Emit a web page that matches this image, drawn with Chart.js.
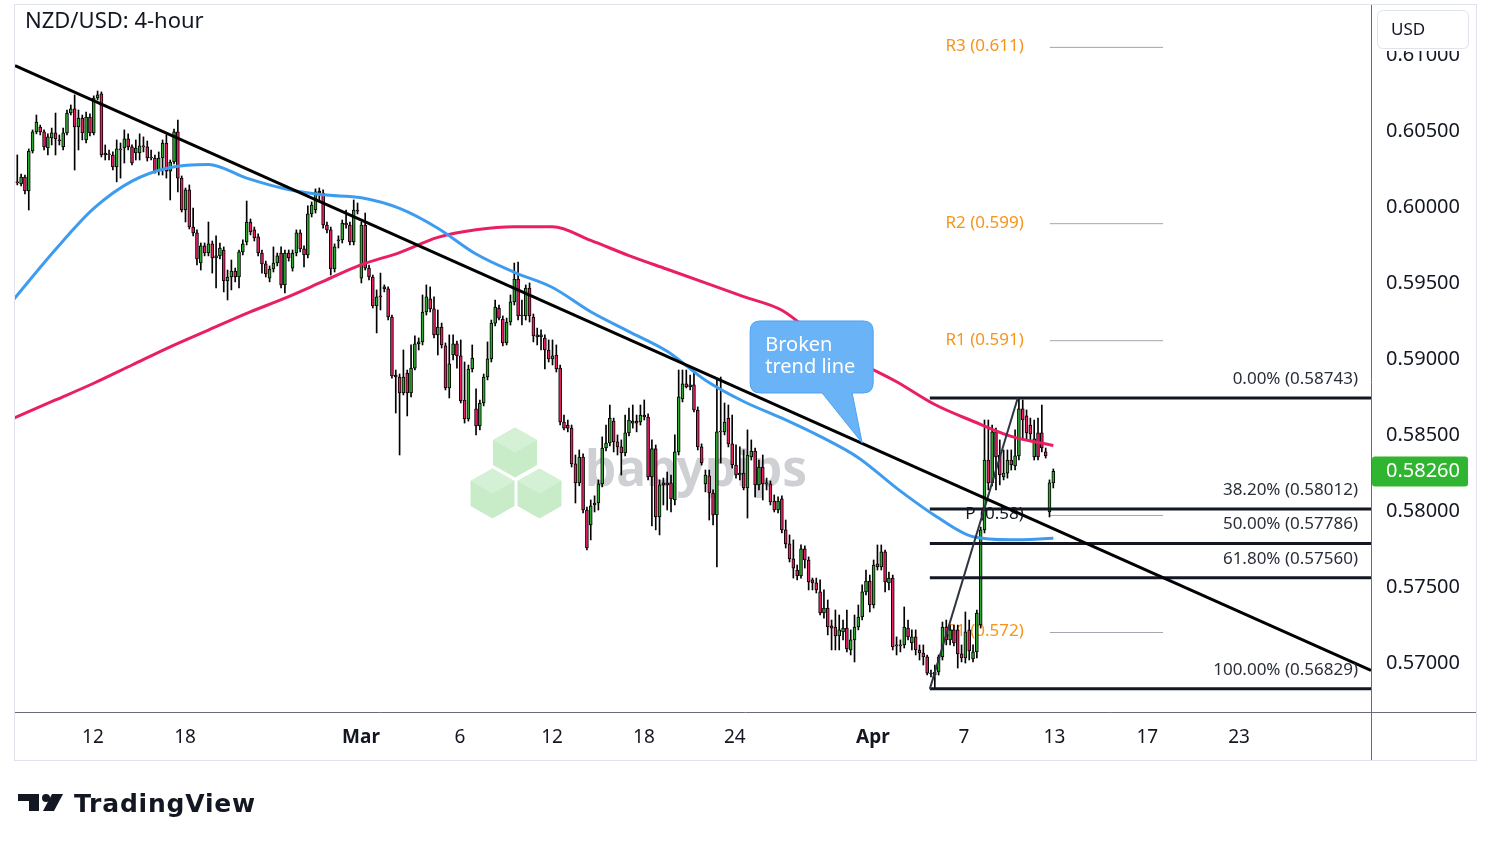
<!DOCTYPE html>
<html>
<head>
<meta charset="utf-8">
<title>NZD/USD 4-hour</title>
<script src="https://cdn.jsdelivr.net/npm/chart.js@4.4.1/dist/chart.umd.min.js"></script>
<style>
  html, body { margin: 0; padding: 0; background: #ffffff; }
  #wrap { position: relative; width: 1491px; height: 851px; }
</style>
</head>
<body>
<div id="wrap"><canvas id="chart" width="1491" height="851"></canvas></div>
<script>
// 4-hour candles, Feb 11 -> Apr 13
const opens = [0.60165,0.60152,0.60197,0.60105,0.60368,0.60494,0.60526,0.60494,0.60388,0.60454,
0.60487,0.60441,0.60395,0.60487,0.60618,0.60645,0.60526,0.60585,0.60441,0.60592,
0.60487,0.60717,0.60744,0.60342,0.60349,0.60342,0.60263,0.60382,0.60388,0.60448,
0.60395,0.60355,0.60355,0.60402,0.60395,0.60322,0.60322,0.60236,0.60322,0.60421,
0.60236,0.60296,0.60494,0.60190,0.59980,0.60112,0.59868,0.59829,0.59631,0.59744,
0.59697,0.59757,0.59664,0.59678,0.59717,0.59513,0.59539,0.59578,0.59539,0.59704,
0.59770,0.59901,0.59849,0.59803,0.59697,0.59625,0.59532,0.59592,0.59631,0.59697,
0.59487,0.59697,0.59598,0.59697,0.59829,0.59724,0.59684,0.59954,0.59980,0.60105,
0.60092,0.59881,0.59849,0.59592,0.59776,0.59783,0.59894,0.59881,0.59770,0.59980,
0.59532,0.59881,0.59598,0.59539,0.59349,0.59415,0.59474,0.59461,0.59276,0.58894,
0.58881,0.58776,0.58907,0.58776,0.58940,0.59099,0.59112,0.59309,0.59395,0.59329,
0.59158,0.59210,0.59086,0.58809,0.59026,0.59099,0.59020,0.58730,0.58605,0.58934,
0.58671,0.58559,0.58710,0.58881,0.59000,0.59236,0.59335,0.59263,0.59105,0.59243,
0.59375,0.59526,0.59289,0.59283,0.59467,0.59276,0.59145,0.59158,0.59138,0.59059,
0.59000,0.59026,0.58940,0.58585,0.58565,0.58545,0.58309,0.58184,0.58355,0.58006,
0.57907,0.58039,0.58052,0.58178,0.58414,0.58447,0.58591,0.58454,0.58421,0.58381,
0.58513,0.58578,0.58591,0.58585,0.58631,0.58618,0.58223,0.58408,0.57960,0.58184,
0.58171,0.58184,0.58072,0.58388,0.58737,0.58836,0.58816,0.58829,0.58664,0.58421,
0.58178,0.58230,0.58118,0.57973,0.58526,0.58520,0.58611,0.58441,0.58302,0.58236,
0.58249,0.58151,0.58355,0.58394,0.58171,0.58289,0.58184,0.58178,0.58065,0.58006,
0.58079,0.57875,0.57783,0.57684,0.57611,0.57572,0.57750,0.57677,0.57546,0.57526,
0.57467,0.57328,0.57361,0.57243,0.57236,0.57178,0.57204,0.57229,0.57085,0.57151,
0.57236,0.57302,0.57467,0.57539,0.57381,0.57651,0.57631,0.57730,0.57526,0.57558,
0.57118,0.57112,0.57118,0.57229,0.57131,0.57171,0.57085,0.57065,0.57039,0.56933,
0.56920,0.56940,0.57039,0.57236,0.57151,0.57217,0.57217,0.57059,0.57032,0.57217,
0.57026,0.57072,0.57249,0.57875,0.58335,0.58184,0.58520,0.58368,0.58223,0.58249,
0.58335,0.58296,0.58362,0.58671,0.58625,0.58565,0.58355,0.58513,0.58513,0.58388,
0.57993,0.58184];

const highs = [0.60342,0.60217,0.60210,0.60382,0.60507,0.60605,0.60539,0.60507,0.60481,0.60519,
0.60618,0.60474,0.60519,0.60638,0.60671,0.60737,0.60638,0.60605,0.60625,0.60612,
0.60731,0.60763,0.60757,0.60408,0.60375,0.60362,0.60441,0.60421,0.60507,0.60481,
0.60408,0.60441,0.60481,0.60461,0.60434,0.60375,0.60342,0.60362,0.60441,0.60474,
0.60309,0.60513,0.60572,0.60204,0.60125,0.60145,0.59993,0.59849,0.59763,0.59763,
0.59901,0.59776,0.59810,0.59763,0.59737,0.59585,0.59651,0.59598,0.59717,0.59783,
0.60039,0.59921,0.59868,0.59823,0.59717,0.59644,0.59612,0.59737,0.59697,0.59737,
0.59717,0.59717,0.59717,0.59849,0.59849,0.59744,0.60007,0.60033,0.60119,0.60125,
0.60112,0.59901,0.59868,0.59757,0.59810,0.59914,0.59980,0.59901,0.60046,0.60026,
0.59901,0.59960,0.59618,0.59552,0.59454,0.59565,0.59487,0.59474,0.59289,0.58927,
0.58901,0.59059,0.58927,0.59092,0.59152,0.59138,0.59421,0.59487,0.59474,0.59408,
0.59322,0.59236,0.59105,0.59158,0.59158,0.59118,0.59125,0.58980,0.58960,0.59092,
0.58803,0.58730,0.58901,0.59112,0.59256,0.59388,0.59355,0.59283,0.59269,0.59421,
0.59631,0.59638,0.59388,0.59487,0.59500,0.59296,0.59203,0.59191,0.59158,0.59125,
0.59125,0.59092,0.58960,0.58631,0.58598,0.58565,0.58368,0.58401,0.58375,0.58026,
0.58072,0.58099,0.58204,0.58487,0.58565,0.58697,0.58611,0.58500,0.58467,0.58631,
0.58677,0.58697,0.58631,0.58697,0.58730,0.58638,0.58467,0.58434,0.58204,0.58216,
0.58256,0.58236,0.58500,0.58927,0.58927,0.58927,0.58894,0.58914,0.58684,0.58441,
0.58269,0.58269,0.58138,0.58862,0.58881,0.58710,0.58697,0.58631,0.58434,0.58421,
0.58401,0.58533,0.58467,0.58414,0.58335,0.58368,0.58216,0.58197,0.58105,0.58092,
0.58099,0.57940,0.57842,0.57809,0.57644,0.57776,0.57770,0.57697,0.57558,0.57558,
0.57546,0.57480,0.57414,0.57282,0.57348,0.57315,0.57282,0.57348,0.57217,0.57315,
0.57381,0.57513,0.57611,0.57578,0.57677,0.57776,0.57776,0.57743,0.57598,0.57578,
0.57171,0.57151,0.57368,0.57282,0.57217,0.57217,0.57118,0.57118,0.57052,0.56953,
0.56986,0.57052,0.57269,0.57282,0.57249,0.57249,0.57249,0.57118,0.57335,0.57282,
0.57118,0.57348,0.57894,0.58598,0.58598,0.58565,0.58545,0.58467,0.58401,0.58401,
0.58401,0.58533,0.58743,0.58730,0.58664,0.58611,0.58598,0.58611,0.58697,0.58414,
0.58204,0.58276];

const lows = [0.60145,0.60139,0.60086,0.59980,0.60355,0.60481,0.60474,0.60375,0.60342,0.60408,
0.60342,0.60408,0.60375,0.60474,0.60605,0.60243,0.60375,0.60441,0.60421,0.60468,
0.60474,0.60704,0.60329,0.60309,0.60309,0.60243,0.60165,0.60190,0.60289,0.60375,
0.60276,0.60309,0.60309,0.60362,0.60302,0.60309,0.60223,0.60210,0.60210,0.60190,
0.60046,0.60283,0.60099,0.59967,0.59901,0.59855,0.59810,0.59618,0.59585,0.59678,
0.59678,0.59565,0.59467,0.59658,0.59441,0.59388,0.59454,0.59507,0.59467,0.59684,
0.59750,0.59816,0.59776,0.59678,0.59565,0.59539,0.59507,0.59572,0.59612,0.59467,
0.59434,0.59644,0.59578,0.59678,0.59704,0.59605,0.59664,0.59934,0.59960,0.60046,
0.59861,0.59829,0.59552,0.59572,0.59730,0.59763,0.59861,0.59750,0.59750,0.59954,
0.59500,0.59585,0.59520,0.59335,0.59171,0.59322,0.59441,0.59256,0.58874,0.58644,
0.58368,0.58763,0.58625,0.58750,0.58927,0.59059,0.59092,0.59289,0.59309,0.59138,
0.59026,0.59072,0.58796,0.58743,0.58993,0.58940,0.58710,0.58578,0.58591,0.58914,
0.58500,0.58533,0.58691,0.58862,0.58980,0.59217,0.59256,0.59086,0.59092,0.59223,
0.59355,0.59256,0.59223,0.59256,0.59243,0.59112,0.59092,0.59059,0.58934,0.58980,
0.58960,0.58914,0.58565,0.58533,0.58520,0.58289,0.58052,0.58165,0.57986,0.57743,
0.57809,0.57993,0.58006,0.58158,0.58394,0.58428,0.58388,0.58368,0.58236,0.58362,
0.58494,0.58545,0.58520,0.58565,0.58598,0.58204,0.57901,0.57875,0.57842,0.58039,
0.58006,0.57993,0.58039,0.58368,0.58717,0.58809,0.58796,0.58651,0.58401,0.58302,
0.58125,0.57940,0.57907,0.57631,0.58315,0.58500,0.58421,0.58282,0.58216,0.58204,
0.58138,0.57953,0.58335,0.58092,0.58138,0.58072,0.58138,0.58039,0.57993,0.57986,
0.57855,0.57756,0.57664,0.57558,0.57546,0.57558,0.57624,0.57480,0.57480,0.57460,
0.57315,0.57295,0.57184,0.57085,0.57085,0.57085,0.57151,0.57072,0.57052,0.57006,
0.57217,0.57282,0.57447,0.57335,0.57361,0.57611,0.57611,0.57467,0.57480,0.57085,
0.57052,0.57072,0.57098,0.57151,0.57085,0.57052,0.57019,0.56986,0.56920,0.56907,
0.56829,0.56920,0.57019,0.57118,0.57118,0.57112,0.56966,0.57006,0.56999,0.57019,
0.57006,0.57032,0.57229,0.57855,0.58138,0.58165,0.58138,0.58171,0.58204,0.58216,
0.58269,0.58269,0.58335,0.58467,0.58467,0.58467,0.58335,0.58335,0.58388,0.58348,
0.57960,0.58151];

const closes = [0.60158,0.60197,0.60105,0.60368,0.60494,0.60559,0.60494,0.60395,0.60461,0.60487,
0.60448,0.60434,0.60487,0.60618,0.60645,0.60526,0.60585,0.60487,0.60592,0.60487,
0.60717,0.60737,0.60342,0.60355,0.60342,0.60263,0.60382,0.60375,0.60448,0.60395,
0.60289,0.60388,0.60402,0.60395,0.60322,0.60329,0.60236,0.60322,0.60421,0.60236,
0.60296,0.60494,0.60190,0.59980,0.60112,0.59868,0.59829,0.59658,0.59744,0.59697,
0.59757,0.59664,0.59678,0.59730,0.59513,0.59539,0.59578,0.59539,0.59704,0.59757,
0.59901,0.59836,0.59796,0.59697,0.59625,0.59559,0.59592,0.59631,0.59678,0.59487,
0.59697,0.59664,0.59697,0.59829,0.59724,0.59684,0.59954,0.60013,0.60099,0.60092,
0.59881,0.59849,0.59592,0.59737,0.59783,0.59894,0.59881,0.59770,0.59980,0.59973,
0.59881,0.59598,0.59539,0.59349,0.59408,0.59408,0.59461,0.59276,0.58888,0.58881,
0.58776,0.58881,0.58776,0.58940,0.59099,0.59112,0.59309,0.59408,0.59329,0.59158,
0.59210,0.59092,0.58809,0.58967,0.59099,0.59020,0.58723,0.58605,0.58934,0.59006,
0.58559,0.58710,0.58881,0.59000,0.59236,0.59342,0.59269,0.59105,0.59243,0.59375,
0.59526,0.59283,0.59283,0.59467,0.59283,0.59152,0.59158,0.59145,0.59059,0.59000,
0.59020,0.58934,0.58585,0.58545,0.58545,0.58309,0.58184,0.58355,0.58006,0.57756,
0.58033,0.58052,0.58178,0.58414,0.58447,0.58611,0.58454,0.58421,0.58381,0.58513,
0.58598,0.58591,0.58578,0.58631,0.58618,0.58223,0.58408,0.57960,0.58171,0.58171,
0.58184,0.58079,0.58388,0.58750,0.58836,0.58816,0.58829,0.58664,0.58421,0.58315,
0.58236,0.58118,0.57973,0.58520,0.58520,0.58585,0.58441,0.58302,0.58236,0.58249,
0.58151,0.58368,0.58394,0.58171,0.58289,0.58178,0.58178,0.58059,0.58006,0.58065,
0.57875,0.57783,0.57684,0.57624,0.57572,0.57750,0.57677,0.57533,0.57526,0.57480,
0.57328,0.57361,0.57236,0.57229,0.57178,0.57217,0.57229,0.57092,0.57151,0.57236,
0.57302,0.57467,0.57539,0.57381,0.57644,0.57631,0.57730,0.57533,0.57558,0.57105,
0.57112,0.57118,0.57236,0.57171,0.57171,0.57085,0.57065,0.57039,0.56933,0.56927,
0.56940,0.57039,0.57236,0.57151,0.57217,0.57131,0.57059,0.57032,0.57204,0.57078,
0.57072,0.57328,0.57875,0.58335,0.58184,0.58520,0.58355,0.58236,0.58249,0.58335,
0.58302,0.58362,0.58671,0.58598,0.58513,0.58507,0.58474,0.58355,0.58414,0.58362,
0.58184,0.58260];

// moving averages, read every 10 bars
const maBars = [-1,10,20,30,40,50,60,70,80,90,100,110,120,130,140,150,160,170,180,190,200,210,220,230,240,250,260,271];
const ma100  = [0.5939,0.5972,0.5999,0.6017,0.6026,0.6028,0.6019,0.6012,0.6008,0.6006,0.5999,0.5986,0.5969,0.5957,0.5947,0.5931,0.5918,0.5905,0.5886,0.5872,0.5861,0.5849,0.5835,0.5815,0.5797,0.5783,0.5781,0.5782];
const ma200  = [0.5861,0.5873,0.5884,0.5896,0.5908,0.5919,0.5930,0.5940,0.5951,0.5962,0.5970,0.5980,0.5985,0.5987,0.5987,0.5978,0.5968,0.5959,0.5950,0.5941,0.5932,0.5913,0.5898,0.5885,0.5870,0.5859,0.5849,0.5843];

// drawings
const trendBars   = [-0.6, 354.1];
const trendPrices = [0.6093, 0.5695];
const fibHigh = 0.58743;
const fibLow = 0.56829;
const fibLevels = [0, 0.382, 0.5, 0.618, 1];
const fibFromBar = 238.7;
const fibToBar = 261.7;
const pivotNames  = ['R3', 'R2', 'R1', 'P', 'S1'];
const pivotValues = [0.6105, 0.5989, 0.5912, 0.5797, 0.5720];
const pivotBars   = [270.1, 299.7];
const calloutAt = [221, 0.58447];

// axes
const tickBars   = [19.8, 43.9, 89.9, 115.8, 139.9, 163.9, 187.7, 223.8, 247.6, 271.3, 295.6, 319.6];
const tickLabels = ['12', '18', 'Mar', '6', '12', '18', '24', 'Apr', '7', '13', '17', '23'];
const monthLabels = ['Mar', 'Apr'];
const priceTicks = [0.570, 0.575, 0.580, 0.585, 0.590, 0.595, 0.600, 0.605, 0.610];

const xMin = -0.6, xMax = 354.1;
const yMin = 0.566768, yMax = 0.613289;

const upColor = '#2ca82c';
const downColor = '#e91e63';
const FONT = '"Noto Sans", "Open Sans", sans-serif';

Chart.defaults.font.family = FONT;

function roundRect(ctx, x, y, w, h, r) {
  ctx.beginPath();
  ctx.moveTo(x + r, y);
  ctx.lineTo(x + w - r, y);
  ctx.quadraticCurveTo(x + w, y, x + w, y + r);
  ctx.lineTo(x + w, y + h - r);
  ctx.quadraticCurveTo(x + w, y + h, x + w - r, y + h);
  ctx.lineTo(x + r, y + h);
  ctx.quadraticCurveTo(x, y + h, x, y + h - r);
  ctx.lineTo(x, y + r);
  ctx.quadraticCurveTo(x, y, x + r, y);
  ctx.closePath();
}

function drawCube(ctx, cx, cy, w, h) {
  ctx.beginPath();
  ctx.moveTo(cx, cy - h);
  ctx.lineTo(cx + w, cy - h / 2);
  ctx.lineTo(cx + w, cy + h / 2);
  ctx.lineTo(cx, cy + h);
  ctx.lineTo(cx - w, cy + h / 2);
  ctx.lineTo(cx - w, cy - h / 2);
  ctx.closePath();
  ctx.fillStyle = '#c8ebc8';
  ctx.fill();
  ctx.beginPath();
  ctx.moveTo(cx, cy - h);
  ctx.lineTo(cx + w, cy - h / 2);
  ctx.lineTo(cx, cy);
  ctx.lineTo(cx - w, cy - h / 2);
  ctx.closePath();
  ctx.fillStyle = '#d5f1d5';
  ctx.fill();
}

const extras = {
  id: 'extras',
  beforeDatasetsDraw(chart) {
    const ctx = chart.ctx;
    const xs = chart.scales.x, ys = chart.scales.y;
    ctx.save();
    // babypips watermark
    drawCube(ctx, 515, 452.5, 22, 25);
    drawCube(ctx, 492.5, 493.5, 22, 25);
    drawCube(ctx, 539.5, 493.5, 22, 25);
    ctx.font = 'bold 52px ' + FONT;
    const w = ctx.measureText('babypips').width;
    ctx.font = 'bold ' + (52 * 222 / w).toFixed(1) + 'px ' + FONT;
    ctx.fillStyle = 'rgba(175,177,183,0.6)';
    ctx.textBaseline = 'alphabetic';
    ctx.fillText('babypips', 585, 486);

    // pivot labels
    ctx.font = '17px ' + FONT;
    ctx.textAlign = 'right';
    ctx.textBaseline = 'middle';
    const px = xs.getPixelForValue(pivotBars[0]) - 26;
    pivotNames.forEach((n, k) => {
      ctx.fillStyle = n === 'P' ? '#131722' : '#f7941d';
      ctx.fillText(n + ' (' + parseFloat(pivotValues[k].toFixed(3)) + ')', px, ys.getPixelForValue(pivotValues[k]) - 1);
    });
    ctx.restore();
  },
  afterDatasetsDraw(chart) {
    const ctx = chart.ctx;
    const xs = chart.scales.x, ys = chart.scales.y, area = chart.chartArea;
    ctx.save();
    // fib labels
    ctx.font = '17px ' + FONT;
    ctx.textAlign = 'right';
    ctx.textBaseline = 'middle';
    ctx.fillStyle = '#2a2e39';
    fibLevels.forEach(l => {
      const price = fibHigh - l * (fibHigh - fibLow);
      ctx.fillText((l * 100).toFixed(2) + '% (' + price.toFixed(5) + ')', area.right - 13, ys.getPixelForValue(price) - 19);
    });

    // callout
    const tx = xs.getPixelForValue(calloutAt[0]);
    const ty = ys.getPixelForValue(calloutAt[1]);
    const bx = tx - 112, by = ty - 122, bw = 123, bh = 72, r = 10;
    ctx.beginPath();
    ctx.moveTo(bx + r, by);
    ctx.lineTo(bx + bw - r, by);
    ctx.quadraticCurveTo(bx + bw, by, bx + bw, by + r);
    ctx.lineTo(bx + bw, by + bh - r);
    ctx.quadraticCurveTo(bx + bw, by + bh, bx + bw - r, by + bh);
    ctx.lineTo(tx - 10, by + bh);
    ctx.lineTo(tx, ty);
    ctx.lineTo(tx - 40, by + bh);
    ctx.lineTo(bx + r, by + bh);
    ctx.quadraticCurveTo(bx, by + bh, bx, by + bh - r);
    ctx.lineTo(bx, by + r);
    ctx.quadraticCurveTo(bx, by, bx + r, by);
    ctx.closePath();
    ctx.fillStyle = '#6ab3f6';
    ctx.fill();
    ctx.lineWidth = 1;
    ctx.strokeStyle = '#4aa2f2';
    ctx.stroke();
    ctx.fillStyle = '#ffffff';
    ctx.font = '20px ' + FONT;
    ctx.textAlign = 'left';
    ctx.fillText('Broken', bx + 15, by + 24);
    ctx.fillText('trend line', bx + 15, by + 46);
    ctx.restore();
  },
  afterDraw(chart) {
    const ctx = chart.ctx;
    const ys = chart.scales.y, area = chart.chartArea;
    ctx.save();
    // panel border and axis lines
    ctx.strokeStyle = '#e0e3eb';
    ctx.lineWidth = 1;
    ctx.strokeRect(14.5, 4.5, 1462, 756);
    ctx.strokeStyle = '#6a6d78';
    ctx.beginPath();
    ctx.moveTo(area.right + 0.5, 5);
    ctx.lineTo(area.right + 0.5, 760);
    ctx.moveTo(15, area.bottom + 0.5);
    ctx.lineTo(1476, area.bottom + 0.5);
    ctx.stroke();

    // currency box
    ctx.fillStyle = '#ffffff';
    ctx.fillRect(area.right + 1, 5, 104, 46);
    roundRect(ctx, 1377.5, 10.5, 91, 38, 6);
    ctx.fill();
    ctx.strokeStyle = '#e0e3eb';
    ctx.stroke();
    ctx.fillStyle = '#131722';
    ctx.font = '17px ' + FONT;
    ctx.textBaseline = 'middle';
    ctx.textAlign = 'left';
    ctx.fillText('USD', 1391, 30);

    // last price badge
    const last = closes[closes.length - 1];
    const py = ys.getPixelForValue(last);
    ctx.fillStyle = '#2fb52f';
    roundRect(ctx, area.right + 1, py - 15, 96, 30, 3);
    ctx.fill();
    ctx.fillStyle = '#ffffff';
    ctx.font = '20px ' + FONT;
    ctx.fillText(last.toFixed(5), area.right + 15, py);

    // title
    ctx.fillStyle = '#131722';
    ctx.font = '22px ' + FONT;
    ctx.fillText('NZD/USD: 4-hour', 25, 22);

    // TradingView logo
    ctx.fillStyle = '#131722';
    ctx.fillRect(18, 794, 21, 7);
    ctx.fillRect(29, 794, 10, 17);
    ctx.beginPath();
    ctx.arc(46, 798, 4, 0, Math.PI * 2);
    ctx.fill();
    ctx.beginPath();
    ctx.moveTo(43, 811);
    ctx.lineTo(54, 811);
    ctx.lineTo(63, 794);
    ctx.lineTo(52, 794);
    ctx.closePath();
    ctx.fill();
    ctx.font = 'bold 25px "DejaVu Sans", sans-serif';
    ctx.letterSpacing = '0.8px';
    ctx.textBaseline = 'alphabetic';
    ctx.fillText('TradingView', 74, 812);
    ctx.restore();
  }
};

const idx = closes.map((c, i) => i);
const candleColors = idx.map(i => closes[i] >= opens[i] ? upColor : downColor);
const lineStyle = { pointRadius: 0, fill: false };

const fibSets = fibLevels.map(l => {
  const price = fibHigh - l * (fibHigh - fibLow);
  return { type: 'line', data: [{ x: fibFromBar, y: price }, { x: xMax, y: price }],
           borderColor: '#131722', borderWidth: 3, ...lineStyle, order: 0 };
});
const pivotSets = pivotValues.map(v => ({
  type: 'line', data: [{ x: pivotBars[0], y: v }, { x: pivotBars[1], y: v }],
  borderColor: '#a3a6af', borderWidth: 1, ...lineStyle, order: 4
}));

new Chart(document.getElementById('chart'), {
  type: 'bar',
  data: {
    datasets: [
      { label: 'wicks', data: idx.map(i => ({ x: i, y: [lows[i], highs[i]] })),
        backgroundColor: '#000000', barThickness: 1, grouped: false, order: 3 },
      { label: 'bodies', data: idx.map(i => ({ x: i, y: [opens[i], closes[i]] })),
        backgroundColor: candleColors, borderColor: '#000000', borderWidth: 1, borderSkipped: false,
        barThickness: 3, grouped: false, order: 2 },
      { type: 'line', label: 'MA 100', data: maBars.map((b, k) => ({ x: b, y: ma100[k] })),
        borderColor: '#3d9cf0', borderWidth: 3, cubicInterpolationMode: 'monotone', ...lineStyle, order: 1 },
      { type: 'line', label: 'MA 200', data: maBars.map((b, k) => ({ x: b, y: ma200[k] })),
        borderColor: '#e91e63', borderWidth: 3, cubicInterpolationMode: 'monotone', ...lineStyle, order: 1 },
      { type: 'line', label: 'trend', data: trendBars.map((b, k) => ({ x: b, y: trendPrices[k] })),
        borderColor: '#000000', borderWidth: 3, ...lineStyle, order: 0 },
      { type: 'line', label: 'fib trend', data: [{ x: fibFromBar, y: fibLow }, { x: fibToBar, y: fibHigh }],
        borderColor: '#2f3441', borderWidth: 2, ...lineStyle, order: 0 },
      ...fibSets,
      ...pivotSets
    ]
  },
  options: {
    responsive: false,
    animation: false,
    events: [],
    devicePixelRatio: 1,
    layout: { padding: { left: 15, top: 5, right: 15, bottom: 91 } },
    plugins: { legend: { display: false }, tooltip: { enabled: false } },
    scales: {
      x: {
        type: 'linear', min: xMin, max: xMax, offset: false,
        grid: { display: false, drawTicks: false }, border: { display: false },
        afterBuildTicks: s => { s.ticks = tickBars.map(v => ({ value: v })); },
        afterFit: s => { s.height = 48; s.paddingLeft = 0; s.paddingRight = 0; },
        ticks: {
          autoSkip: false, maxRotation: 0, padding: 14, color: '#131722',
          callback: (v, i) => tickLabels[i],
          font: c => ({ family: FONT, size: 19, weight: monthLabels.includes(tickLabels[c.index]) ? 'bold' : 'normal' })
        }
      },
      y: {
        position: 'right', min: yMin, max: yMax,
        grid: { display: false, drawTicks: false }, border: { display: false },
        afterBuildTicks: s => { s.ticks = priceTicks.map(v => ({ value: v })); },
        afterFit: s => { s.width = 105; s.paddingTop = 0; s.paddingBottom = 0; },
        ticks: { padding: 15, color: '#131722', font: { family: FONT, size: 20 }, callback: v => v.toFixed(5) }
      }
    }
  },
  plugins: [extras]
});
</script>
</body>
</html>
